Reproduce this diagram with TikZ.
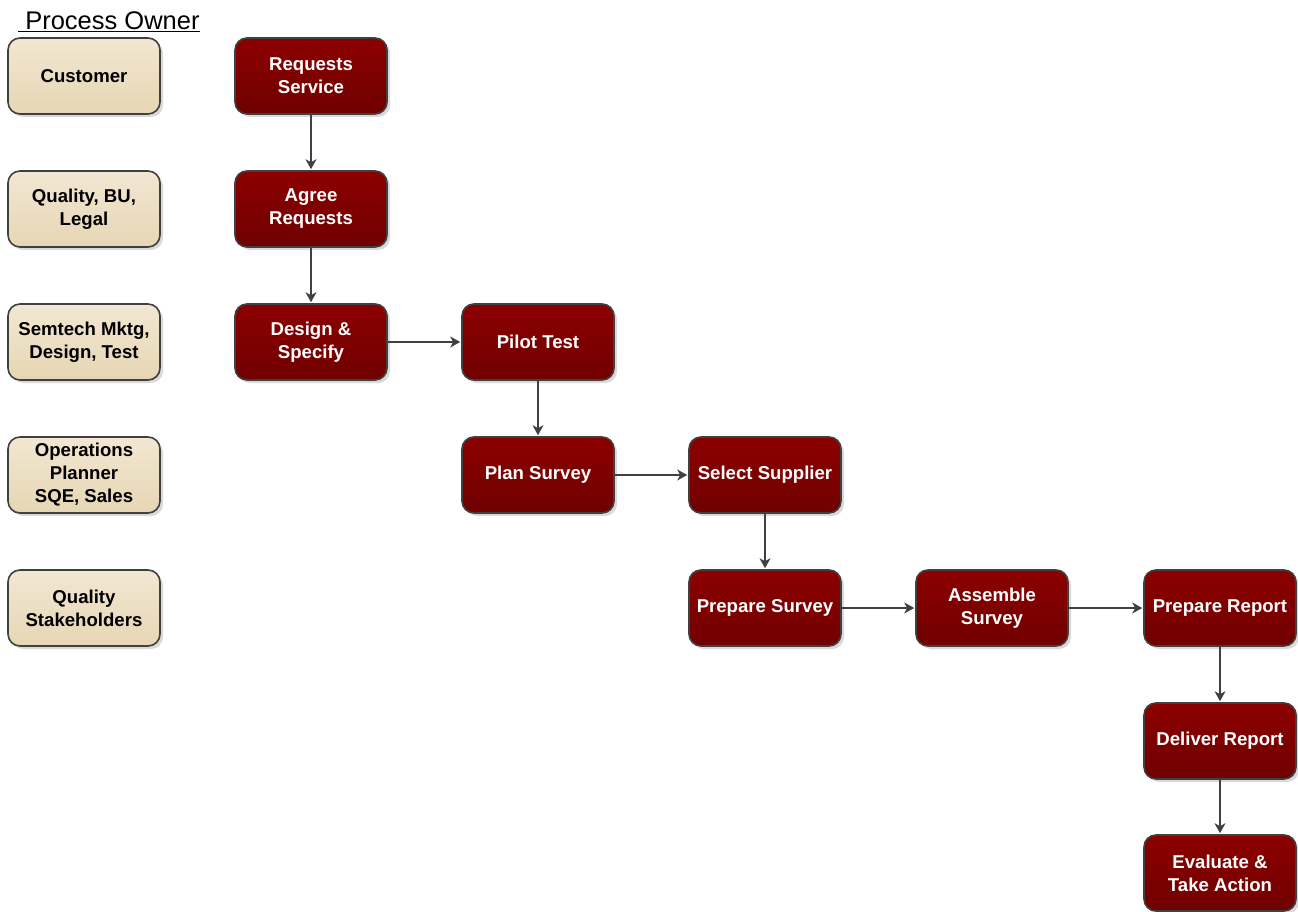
\documentclass[tikz,border=0pt]{standalone}
\usepackage{fontspec}
\setmainfont{Liberation Sans}
\usetikzlibrary{arrows.meta,shadows}
\begin{document}
\begin{tikzpicture}[x=1pt,y=-1pt,
  base/.style={rounded corners=12pt, draw=black!75, line width=1.6pt, minimum width=152pt, minimum height=76pt, align=center, font=\bfseries\fontsize{18.6}{23}\selectfont, inner sep=2pt,
    drop shadow={shadow xshift=3pt, shadow yshift=-3pt, fill=black!25, opacity=0.6}},
  owner/.style={base, top color={rgb,255:red,242;green,231;blue,210}, bottom color={rgb,255:red,230;green,214;blue,180}, text=black},
  task/.style={base, top color={rgb,255:red,140;green,0;blue,0}, bottom color={rgb,255:red,112;green,0;blue,0}, text=white},
  link/.style={draw=black!75, line width=1.1pt, shorten >=1pt, -{Stealth[length=10pt,width=11pt,inset=3pt]}}]
\useasboundingbox (0,0) rectangle (1298,912);
\node[font=\fontsize{25.5}{30}\selectfont, anchor=base west, inner sep=0pt] (title) at (18,30) {\underline{\ Process Owner}};
% owners
\node[owner] (o1) at (84,76) {Customer};
\node[owner] (o2) at (84,209) {Quality, BU,\\Legal};
\node[owner] (o3) at (84,342) {Semtech Mktg,\\Design, Test};
\node[owner] (o4) at (84,475) {Operations\\Planner\\SQE, Sales};
\node[owner] (o5) at (84,608) {Quality\\Stakeholders};
% tasks
\node[task] (t1) at (311,76) {Requests\\Service};
\node[task] (t2) at (311,209) {Agree\\Requests};
\node[task] (t3) at (311,342) {Design \&\\Specify};
\node[task] (t4) at (538,342) {Pilot Test};
\node[task] (t5) at (538,475) {Plan Survey};
\node[task] (t6) at (765,475) {Select Supplier};
\node[task] (t7) at (765,608) {Prepare Survey};
\node[task] (t8) at (992,608) {Assemble\\Survey};
\node[task] (t9) at (1220,608) {Prepare Report};
\node[task] (t10) at (1220,741) {Deliver Report};
\node[task] (t11) at (1220,873) {Evaluate \&\\Take Action};
% links
\draw[link] (t1) -- (t2);
\draw[link] (t2) -- (t3);
\draw[link] (t3) -- (t4);
\draw[link] (t4) -- (t5);
\draw[link] (t5) -- (t6);
\draw[link] (t6) -- (t7);
\draw[link] (t7) -- (t8);
\draw[link] (t8) -- (t9);
\draw[link] (t9) -- (t10);
\draw[link] (t10) -- (t11);
\end{tikzpicture}
\end{document}
